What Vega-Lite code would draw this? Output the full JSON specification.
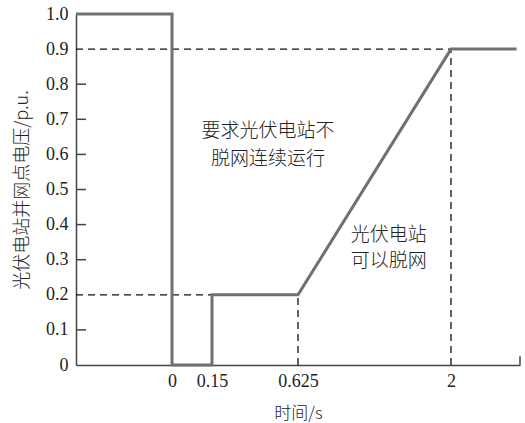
{
  "$schema": "https://vega.github.io/schema/vega-lite/v6.json",
  "autosize": "none",
  "width": 444,
  "height": 351,
  "padding": {"left": 76, "top": 14, "right": 5, "bottom": 58},
  "background": "white",
  "config": {
    "view": {"stroke": null},
    "axis": {"grid": false}
  },
  "datasets": {
    "curve": [
      {"t": -0.6, "v": 1.0, "k": 1},
      {"t": 0, "v": 1.0, "k": 2},
      {"t": 0, "v": 0, "k": 3},
      {"t": 0.15, "v": 0, "k": 4},
      {"t": 0.15, "v": 0.2, "k": 5},
      {"t": 0.625, "v": 0.2, "k": 6},
      {"t": 2, "v": 0.9, "k": 7},
      {"t": 2.38, "v": 0.9, "k": 8}
    ],
    "dashes": [
      {"t": -0.6, "t2": 2, "v": 0.9, "v2": 0.9},
      {"t": -0.6, "t2": 0.15, "v": 0.2, "v2": 0.2},
      {"t": 0.625, "t2": 0.625, "v": 0, "v2": 0.2},
      {"t": 2, "t2": 2, "v": 0, "v2": 0.9}
    ],
    "ticks": [
      {"t": -0.6, "t2": -0.5375, "v": 0.1, "v2": 0.1},
      {"t": -0.6, "t2": -0.5375, "v": 0.3, "v2": 0.3},
      {"t": -0.6, "t2": -0.5375, "v": 0.4, "v2": 0.4},
      {"t": -0.6, "t2": -0.5375, "v": 0.5, "v2": 0.5},
      {"t": -0.6, "t2": -0.5375, "v": 0.6, "v2": 0.6},
      {"t": -0.6, "t2": -0.5375, "v": 0.7, "v2": 0.7},
      {"t": -0.6, "t2": -0.5375, "v": 0.8, "v2": 0.8},
      {"t": 2.4, "t2": 2.4, "v": 0, "v2": 0.025}
    ],
    "notes": [
      {"t": 0.459, "v": 0.667, "label": "要求光伏电站不"},
      {"t": 0.459, "v": 0.587, "label": "脱网连续运行"},
      {"t": 1.441, "v": 0.37, "label": "光伏电站"},
      {"t": 1.441, "v": 0.296, "label": "可以脱网"}
    ]
  },
  "encoding": {
    "x": {
      "field": "t", "type": "quantitative",
      "scale": {"domain": [-0.6, 0, 0.15, 0.625, 2, 2.4], "range": [0, 96, 136, 222, 375, 444], "nice": false, "zero": false},
      "axis": {
        "title": "时间/s",
        "titleFont": "Noto Sans CJK SC",
        "titleFontSize": 17,
        "titleFontWeight": 300,
        "titleColor": "#222",
        "titlePadding": 15,
        "values": [0, 0.15, 0.625, 2],
        "labelExpr": "format(datum.value, '~g')",
        "labelFont": "Liberation Serif",
        "labelFontSize": 18,
        "labelColor": "#222",
        "labelFlush": false,
        "labelOverlap": false,
        "ticks": false,
        "labelPadding": 7,
        "domainColor": "#444",
        "domainWidth": 1.5
      }
    },
    "y": {
      "field": "v", "type": "quantitative",
      "scale": {"domain": [0, 1], "nice": false},
      "axis": {
        "title": "光伏电站并网点电压/p.u.",
        "titleFont": "Noto Sans CJK SC",
        "titleFontSize": 18,
        "titleFontWeight": 300,
        "titleColor": "#222",
        "titlePadding": 14,
        "values": [0, 0.1, 0.2, 0.3, 0.4, 0.5, 0.6, 0.7, 0.8, 0.9, 1.0],
        "labelExpr": "datum.value == 0 ? '0' : format(datum.value, '.1f')",
        "labelFont": "Liberation Serif",
        "labelFontSize": 18,
        "labelColor": "#222",
        "labelFlush": false,
        "labelOverlap": false,
        "ticks": false,
        "labelPadding": 8,
        "domainColor": "#444",
        "domainWidth": 1.5
      }
    }
  },
  "layer": [
    {
      "data": {"name": "ticks"},
      "mark": {"type": "rule", "stroke": "#444", "strokeWidth": 1.5, "clip": false},
      "encoding": {
        "x2": {"field": "t2"},
        "y2": {"field": "v2"}
      }
    },
    {
      "data": {"name": "dashes"},
      "mark": {"type": "rule", "stroke": "#111", "strokeWidth": 1.3, "strokeDash": [7, 5]},
      "encoding": {
        "x2": {"field": "t2"},
        "y2": {"field": "v2"}
      }
    },
    {
      "data": {"name": "curve"},
      "mark": {"type": "line", "stroke": "#707070", "strokeWidth": 3, "strokeJoin": "miter", "clip": false},
      "encoding": {
        "order": {"field": "k", "type": "quantitative"}
      }
    },
    {
      "data": {"name": "notes"},
      "mark": {"type": "text", "font": "Noto Sans CJK SC", "fontSize": 19, "fontWeight": 300, "color": "#222", "align": "center", "baseline": "middle"},
      "encoding": {
        "text": {"field": "label"}
      }
    }
  ]
}
